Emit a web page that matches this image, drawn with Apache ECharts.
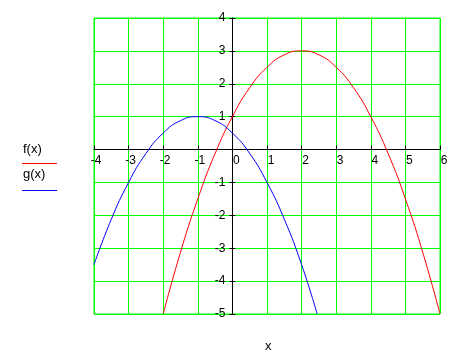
<!DOCTYPE html>
<html>
<head>
<meta charset="utf-8">
<script src="https://cdn.jsdelivr.net/npm/echarts@6/dist/echarts.min.js"></script>
<style>html,body{margin:0;padding:0;background:#fff;}#c{width:466px;height:354px;}</style>
</head>
<body>
<div id="c"></div>
<script>
// values
var fX = [-2, -1.5, -1, -0.5, 0, 0.5, 1, 1.5, 2, 2.5, 3, 3.5, 4, 4.5, 5, 5.5, 6];
var fY = [-5, -3.12, -1.5, -0.12, 1, 1.88, 2.5, 2.88, 3, 2.88, 2.5, 1.88, 1, -0.12, -1.5, -3.12, -5];
var gX = [-4, -3.5, -3, -2.5, -2, -1.5, -1, -0.5, 0, 0.5, 1, 1.5, 2, 2.45];
var gY = [-3.5, -2.12, -1, -0.12, 0.5, 0.88, 1, 0.88, 0.5, -0.12, -1, -2.12, -3.5, -5];
var xTicks = [-4, -3, -2, -1, 0, 1, 2, 3, 4, 5, 6];
var yTicks = [-5, -4, -3, -2, -1, 0, 1, 2, 3, 4];
var legendNames = ['f(x)', 'g(x)'];
var xName = 'x';

function pairs(xs, ys) { return xs.map(function (x, i) { return [x, ys[i]]; }); }
var FONT = '"Liberation Sans", Arial, sans-serif';
var W = 466, H = 354;
var G = { left: 94, right: 26, top: 18, bottom: 40 };
var gw = W - G.left - G.right, gh = H - G.top - G.bottom;
var xMin = xTicks[0], xMax = xTicks[xTicks.length - 1];
var yMin = yTicks[0], yMax = yTicks[yTicks.length - 1];
// place the axes on the zero lines
var yAxisOffset = -gw * (0 - xMin) / (xMax - xMin);
var xAxisOffset = -gh * (0 - yMin) / (yMax - yMin);

var chart = echarts.init(document.getElementById('c'));
chart.setOption({
  animation: false,
  backgroundColor: '#fff',
  grid: { left: G.left, right: G.right, top: G.top, bottom: G.bottom, show: true, borderColor: '#00ff00', borderWidth: 1 },
  xAxis: {
    type: 'value', min: xMin, max: xMax, interval: 1, position: 'bottom', offset: xAxisOffset,
    axisLine: { onZero: false, lineStyle: { color: '#000', width: 1 } },
    axisTick: { show: true, inside: true, length: 4, lineStyle: { color: '#000' } },
    splitLine: { show: true, lineStyle: { color: '#00ff00', width: 1 } },
    axisLabel: {
      margin: 5, color: '#000', fontFamily: FONT, fontSize: 12, align: 'center',
      formatter: function (v) { return v < 0 ? '{n|' + v + '}' : '{p|' + v + '}'; },
      rich: {
        n: { padding: [0, 0, 0, 4], fontFamily: FONT, fontSize: 12, color: '#000' },
        p: { padding: [0, 0, 0, 8], fontFamily: FONT, fontSize: 12, color: '#000' }
      }
    }
  },
  yAxis: [{
    type: 'value', min: yMin, max: yMax, interval: 1, position: 'left', offset: yAxisOffset,
    axisLine: { show: true, onZero: false, lineStyle: { color: '#000', width: 1 } },
    axisTick: { show: true, inside: false, length: 3, lineStyle: { color: '#000' } },
    splitLine: { show: true, lineStyle: { color: '#00ff00', width: 1 } },
    axisLabel: {
      margin: 7, color: '#000', fontFamily: FONT, fontSize: 12,
      formatter: function (v) { return v === 0 ? '' : String(v); }
    }
  }, {
    type: 'value', min: yMin, max: yMax, interval: 1, position: 'left', offset: yAxisOffset,
    axisLine: { show: false, onZero: false },
    axisTick: { show: true, inside: true, length: 3, lineStyle: { color: '#000' } },
    splitLine: { show: false },
    axisLabel: { show: false }
  }],
  series: [{
    type: 'line', name: legendNames[0], data: pairs(fX, fY), smooth: true, showSymbol: false,
    lineStyle: { color: '#ff0000', width: 1 }, itemStyle: { color: '#ff0000' }
  }, {
    type: 'line', name: legendNames[1], data: pairs(gX, gY), smooth: true, showSymbol: false,
    lineStyle: { color: '#0000ff', width: 1 }, itemStyle: { color: '#0000ff' }
  }],
  graphic: [
    { type: 'text', left: 23, top: 143, style: { text: legendNames[0], font: '13px ' + FONT, fill: '#000' } },
    { type: 'line', shape: { x1: 22, y1: 163.5, x2: 57, y2: 163.5 }, style: { stroke: '#ff0000', lineWidth: 1 } },
    { type: 'text', left: 23, top: 168, style: { text: legendNames[1], font: '13px ' + FONT, fill: '#000' } },
    { type: 'line', shape: { x1: 22, y1: 190.5, x2: 57, y2: 190.5 }, style: { stroke: '#0000ff', lineWidth: 1 } },
    { type: 'text', left: 265, top: 340, style: { text: xName, font: '13px ' + FONT, fill: '#000' } }
  ]
});
</script>
</body>
</html>
